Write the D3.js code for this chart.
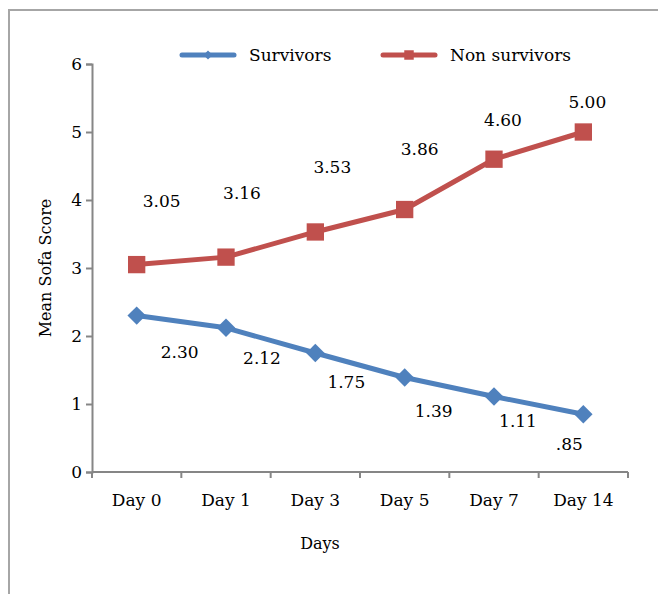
<!DOCTYPE html>
<html>
<head>
<meta charset="utf-8">
<script src="https://cdn.jsdelivr.net/npm/d3@7"></script>
<style>
  body { margin: 0; background: #fff; }
  svg text { font-family: "DejaVu Serif", serif; fill: #000; }
</style>
</head>
<body>
<div id="chart"></div>
<script>
// data
var days = ["Day 0", "Day 1", "Day 3", "Day 5", "Day 7", "Day 14"];
var survivors = [2.30, 2.12, 1.75, 1.39, 1.11, 0.85];
var nonSurvivors = [3.05, 3.16, 3.53, 3.86, 4.60, 5.00];
var survivorLabels = ["2.30", "2.12", "1.75", "1.39", "1.11", ".85"];
var nonSurvivorLabels = ["3.05", "3.16", "3.53", "3.86", "4.60", "5.00"];
var yTicks = [0, 1, 2, 3, 4, 5, 6];

// label offsets (px) from each marker, as placed in the original
var survOff = [[43, 35], [36, 29], [31, 28], [29, 33], [24, 23], [-14, 29]];
var nonOff = [[25, -65], [16, -65], [17, -66], [15, -62], [9, -40], [4, -31]];

var cfg = { w: 658, h: 594, left: 92, right: 628, top: 64, bottom: 472 };
var blue = "#4f81bd", red = "#c0504d", axisCol = "#868686";
var fs = "17px";

var svg = d3.select("#chart").append("svg")
    .attr("width", cfg.w)
    .attr("height", cfg.h);

// outer frame (left + top only visible)
svg.append("path")
    .attr("d", "M9,594 V10 H658")
    .attr("fill", "none")
    .attr("stroke", "#a6a6a6")
    .attr("stroke-width", 2);

var x = d3.scaleBand().domain(days).range([cfg.left, cfg.right]);
var y = d3.scaleLinear().domain([0, 6]).range([cfg.bottom, cfg.top]);
var cx = function(d, i) { return x(days[i]) + x.bandwidth() / 2; };

// y axis
var yAxis = svg.append("g")
    .attr("transform", "translate(" + cfg.left + ",0)")
    .call(d3.axisLeft(y).tickValues(yTicks).tickFormat(d3.format("d")).tickSize(6).tickPadding(4));
yAxis.select(".domain").attr("stroke", axisCol).attr("stroke-width", 2);
yAxis.selectAll(".tick line").attr("stroke", axisCol).attr("stroke-width", 2);
yAxis.selectAll("text").style("font-size", fs).attr("fill", "#000");

// x axis: ticks at category boundaries
var xAxis = svg.append("g")
    .attr("transform", "translate(0," + cfg.bottom + ")");
xAxis.append("line")
    .attr("x1", cfg.left).attr("x2", cfg.right)
    .attr("stroke", axisCol).attr("stroke-width", 2);
xAxis.selectAll(".xt")
    .data(days.concat(["end"]))
    .enter().append("line")
    .attr("x1", function(d, i) { return cfg.left + i * x.bandwidth(); })
    .attr("x2", function(d, i) { return cfg.left + i * x.bandwidth(); })
    .attr("y1", 0).attr("y2", 6)
    .attr("stroke", axisCol).attr("stroke-width", 2);
xAxis.selectAll(".xl")
    .data(days)
    .enter().append("text")
    .attr("x", function(d) { return x(d) + x.bandwidth() / 2; })
    .attr("y", 34)
    .attr("text-anchor", "middle")
    .style("font-size", fs)
    .text(function(d) { return d; });

// axis titles
svg.append("text")
    .attr("x", 320).attr("y", 549)
    .attr("text-anchor", "middle")
    .style("font-size", "16px")
    .text("Days");
svg.append("text")
    .attr("transform", "translate(51,268) rotate(-90)")
    .attr("text-anchor", "middle")
    .style("font-size", "16px")
    .text("Mean Sofa Score");

var line = d3.line()
    .x(function(d, i) { return cx(d, i); })
    .y(function(d) { return y(d); });

function drawSeries(vals, color, rot, size) {
    svg.append("path")
        .datum(vals)
        .attr("d", line)
        .attr("fill", "none")
        .attr("stroke", color)
        .attr("stroke-width", 5)
        .attr("stroke-linejoin", "round");
    svg.selectAll(null)
        .data(vals)
        .enter().append("path")
        .attr("d", d3.symbol().type(d3.symbolSquare).size(size))
        .attr("transform", function(d, i) {
            return "translate(" + cx(d, i) + "," + y(d) + ") rotate(" + rot + ")";
        })
        .attr("fill", color);
}

drawSeries(nonSurvivors, red, 0, 300);
drawSeries(survivors, blue, 45, 170);

// data labels
function drawLabels(vals, labels, off) {
    svg.selectAll(null)
        .data(vals)
        .enter().append("text")
        .attr("x", function(d, i) { return cx(d, i) + off[i][0]; })
        .attr("y", function(d, i) { return y(d) + off[i][1] + 7; })
        .attr("text-anchor", "middle")
        .style("font-size", fs)
        .text(function(d, i) { return labels[i]; });
}
drawLabels(nonSurvivors, nonSurvivorLabels, nonOff);
drawLabels(survivors, survivorLabels, survOff);

// legend
var legend = svg.append("g").attr("class", "legend");
var legItems = [
    { name: "Survivors", color: blue, x: 182, rot: 45, size: 40 },
    { name: "Non survivors", color: red, x: 383, rot: 0, size: 90 }
];
legItems.forEach(function(it) {
    legend.append("line")
        .attr("x1", it.x).attr("x2", it.x + 52)
        .attr("y1", 55).attr("y2", 55)
        .attr("stroke", it.color).attr("stroke-width", 5)
        .attr("stroke-linecap", "round");
    legend.append("path")
        .attr("d", d3.symbol().type(d3.symbolSquare).size(it.size))
        .attr("transform", "translate(" + (it.x + 26) + ",55) rotate(" + it.rot + ")")
        .attr("fill", it.color);
    legend.append("text")
        .attr("x", it.x + 67).attr("y", 61)
        .style("font-size", fs)
        .text(it.name);
});
</script>
</body>
</html>
